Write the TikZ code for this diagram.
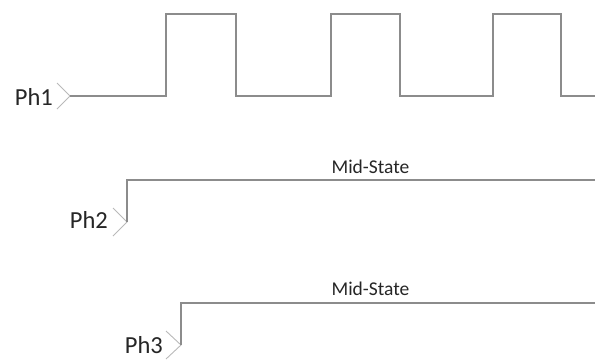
\documentclass[tikz,border=0pt]{standalone}
\usepackage{fontspec}
\setmainfont{Carlito}
\usetikzlibrary{positioning, calc}

\begin{document}
\begin{tikzpicture}[x=1pt, y=-1pt,
  wave/.style={draw=gray!90, line width=1.4pt},
  chevron/.style={draw=gray!55, line width=0.9pt},
  phase/.style={inner sep=0pt, anchor=base east, text=black!85, font=\fontsize{24.5}{24.5}\selectfont},
  state/.style={inner sep=0pt, anchor=base, text=black!85, font=\fontsize{19.5}{19.5}\selectfont}
]
  \useasboundingbox (0,0) rectangle (595,360);

  % chevron tips
  \coordinate (tip1) at (70,96);
  \coordinate (tip2) at (127,222);
  \coordinate (tip3) at (181,345);

  \node[phase] (ph1) at ($(tip1)+(-17,9)$) {Ph1};
  \node[phase] (ph2) at ($(tip2)+(-19,6)$) {Ph2};
  \node[phase] (ph3) at ($(tip3)+(-18,8)$) {Ph3};

  \draw[chevron] ($(tip1)+(-13,-13)$) -- (tip1) -- ($(tip1)+(-13,13)$);
  \draw[chevron] ($(tip2)+(-14,-14)$) -- (tip2) -- ($(tip2)+(-14,14)$);
  \draw[chevron] ($(tip3)+(-15,-14)$) -- (tip3) -- ($(tip3)+(-15,14)$);

  % Ph1 clock
  \draw[wave] (tip1) -- (166,96) -- (166,14) -- (236,14) -- (236,96)
    -- (331,96) -- (331,14) -- (400,14) -- (400,96)
    -- (493,96) -- (493,14) -- (561,14) -- (561,96) -- (595,96);

  % Ph2 / Ph3 held
  \draw[wave] (tip2) -- (127,180) -- (595,180);
  \draw[wave] (tip3) -- (181,303) -- (595,303);

  \node[state] (mid2) at (370.5,173) {Mid-State};
  \node[state] (mid3) at (370.5,295) {Mid-State};
\end{tikzpicture}
\end{document}
